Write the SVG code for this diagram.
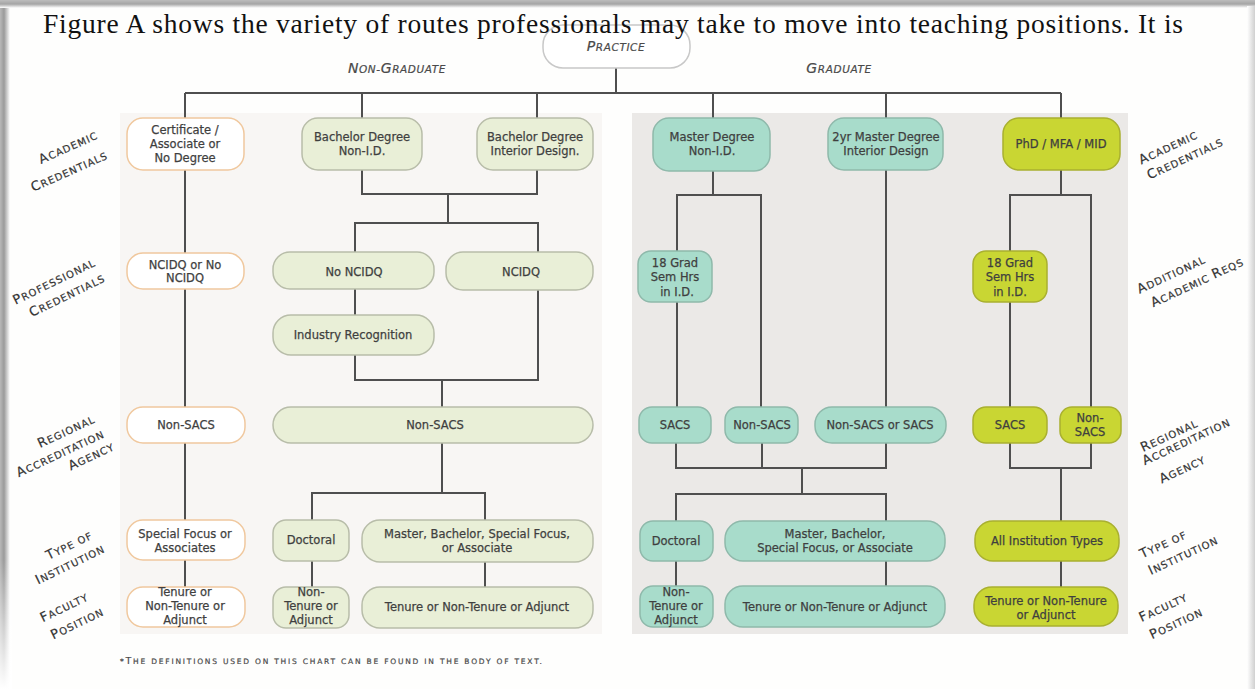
<svg xmlns="http://www.w3.org/2000/svg" width="1255" height="689" viewBox="0 0 1255 689">
<defs>
<linearGradient id="shL" x1="0" x2="1" y1="0" y2="0"><stop offset="0" stop-color="#b8b8b8"/><stop offset="0.4" stop-color="#9a9a9a"/><stop offset="1" stop-color="#ffffff"/></linearGradient>
<linearGradient id="shT" x1="0" x2="0" y1="0" y2="1"><stop offset="0" stop-color="#bdbdbd"/><stop offset="0.5" stop-color="#a5a5a5"/><stop offset="1" stop-color="#ffffff"/></linearGradient>
<linearGradient id="shR" x1="0" x2="1" y1="0" y2="0"><stop offset="0" stop-color="#ffffff"/><stop offset="1" stop-color="#d0d0d0"/></linearGradient>
<linearGradient id="fadeL" x1="0" x2="0" y1="0" y2="1"><stop offset="0" stop-color="#fff" stop-opacity="0"/><stop offset="1" stop-color="#fff" stop-opacity="1"/></linearGradient>
<style>
.t{font-family:"DejaVu Sans",sans-serif;font-size:11.5px;fill:#3f3f3f;stroke:#3f3f3f;stroke-width:0.25px;text-anchor:middle}
.lab{font-family:"DejaVu Sans",sans-serif;font-size:10px;fill:#333;stroke:#333;stroke-width:0.2px;letter-spacing:1px;text-anchor:middle}
.lab .b{font-size:13px}
.hd{font-family:"DejaVu Sans",sans-serif;font-style:italic;font-size:10.5px;fill:#4a4a4a;stroke:#4a4a4a;stroke-width:0.2px;letter-spacing:0.6px;text-anchor:middle}
.hd .b{font-size:14px}
.o{fill:#ffffff;stroke:#f0c89e;stroke-width:1.5}
.g{fill:#e9efd7;stroke:#b8bda9;stroke-width:1.5}
.c{fill:#a8dccb;stroke:#8fb9ab;stroke-width:1.5}
.y{fill:#c9d633;stroke:#a9b030;stroke-width:1.5}
.p{fill:#ffffff;stroke:#c8c8c8;stroke-width:1.5}
#connectors path{stroke:#4f4f4f;stroke-width:2;fill:none}
</style>
</defs>
<rect x="0" y="0" width="1255" height="689" fill="#fefefd"/>
<rect x="0" y="0" width="10" height="689" fill="url(#shL)"/>
<rect x="0" y="560" width="12" height="129" fill="url(#fadeL)"/>
<rect x="0" y="0" width="1255" height="8" fill="url(#shT)"/>
<rect x="1247" y="6" width="8" height="683" fill="url(#shR)"/>

<rect x="120" y="113" width="482" height="521" fill="#f8f6f4"/>
<rect x="632" y="113" width="496" height="521" fill="#ebe9e7"/>

<g id="connectors">
<path d="M616 68V93M185 93H1061M185 93V118M362 93V118M537 93V118M713 93V118M886 93V118M1061 93V118"/>
<path d="M185 170V253M185 289V407M185 443V520M185 560V587"/>
<path d="M362 170V194H537V170M448 194V223M355 252V223H538V252M355 289V315"/>
<path d="M355 355V380H538V290M442 380V407M442 443V493M312 520V493H485V520M312 561V587M485 562V587"/>
<path d="M713 171V195M677 251V195H761V407M677 302V407M886 170V407"/>
<path d="M676 443V468H886V443M762 443V468M802 468V494M676 521V494H886V521M676 561V586M886 561V586"/>
<path d="M1061 170V195M1010 251V195H1091V407M1010 302V407M1010 443V468H1091V443M1061 468V521M1061 561V587"/>
</g>

<g id="practice"><rect class="p" x="543" y="25" width="147" height="43" rx="20"/><text class="hd" x="616" y="51"><tspan class="b">P</tspan>RACTICE</text></g>
<text x="43" y="33" font-family="'Liberation Serif','Times New Roman',serif" font-size="27.5" fill="#111" textLength="1140" lengthAdjust="spacing">Figure A shows the variety of routes professionals may take to move into teaching positions. It is</text>
<text class="hd" x="397" y="73"><tspan class="b">N</tspan>ON-<tspan class="b">G</tspan>RADUATE</text>
<text class="hd" x="839" y="73"><tspan class="b">G</tspan>RADUATE</text>

<g id="n-cert"><rect class="o" x="127" y="118" width="117" height="52" rx="16"/><text class="t" x="185" y="134">Certificate /</text><text class="t" x="185" y="148">Associate or</text><text class="t" x="185" y="162">No Degree</text></g>
<g id="n-bach-nonid"><rect class="g" x="302" y="118" width="120" height="52" rx="16"/><text class="t" x="362" y="141">Bachelor Degree</text><text class="t" x="362" y="155">Non-I.D.</text></g>
<g id="n-bach-id"><rect class="g" x="477" y="118" width="116" height="52" rx="16"/><text class="t" x="535" y="141">Bachelor Degree</text><text class="t" x="535" y="155">Interior Design.</text></g>
<g id="n-mast-nonid"><rect class="c" x="653" y="118" width="117" height="53" rx="16"/><text class="t" x="712" y="141">Master Degree</text><text class="t" x="712" y="155">Non-I.D.</text></g>
<g id="n-mast-id"><rect class="c" x="828" y="118" width="115" height="52" rx="16"/><text class="t" x="886" y="141">2yr Master Degree</text><text class="t" x="886" y="155">Interior Design</text></g>
<g id="n-phd"><rect class="y" x="1003" y="118" width="117" height="52" rx="16"/><text class="t" x="1061" y="148">PhD / MFA / MID</text></g>

<g id="n-ncidq-or"><rect class="o" x="127" y="253" width="117" height="36" rx="16"/><text class="t" x="185" y="269">NCIDQ or No</text><text class="t" x="185" y="282">NCIDQ</text></g>
<g id="n-no-ncidq"><rect class="g" x="273" y="252" width="161" height="37" rx="17"/><text class="t" x="354" y="276">No NCIDQ</text></g>
<g id="n-ncidq"><rect class="g" x="446" y="252" width="147" height="38" rx="17"/><text class="t" x="521" y="276">NCIDQ</text></g>
<g id="n-industry"><rect class="g" x="273" y="315" width="161" height="40" rx="18"/><text class="t" x="353" y="339">Industry Recognition</text></g>
<g id="n-18grad-c"><rect class="c" x="638" y="251" width="74" height="51" rx="13"/><text class="t" x="675" y="267">18 Grad</text><text class="t" x="675" y="281">Sem Hrs</text><text class="t" x="677" y="296">in I.D.</text></g>
<g id="n-18grad-y"><rect class="y" x="973" y="251" width="74" height="51" rx="13"/><text class="t" x="1010" y="267">18 Grad</text><text class="t" x="1010" y="281">Sem Hrs</text><text class="t" x="1010" y="296">in I.D.</text></g>

<g id="n-nonsacs-l"><rect class="o" x="127" y="407" width="118" height="36" rx="16"/><text class="t" x="186" y="429">Non-SACS</text></g>
<g id="n-nonsacs-g"><rect class="g" x="273" y="407" width="320" height="36" rx="18"/><text class="t" x="435" y="429">Non-SACS</text></g>
<g id="n-sacs-c"><rect class="c" x="639" y="407" width="72" height="36" rx="13"/><text class="t" x="675" y="429">SACS</text></g>
<g id="n-nonsacs-c"><rect class="c" x="725" y="407" width="73" height="36" rx="13"/><text class="t" x="762" y="429">Non-SACS</text></g>
<g id="n-either-c"><rect class="c" x="815" y="407" width="131" height="36" rx="17"/><text class="t" x="880" y="429">Non-SACS or SACS</text></g>
<g id="n-sacs-y"><rect class="y" x="973" y="407" width="74" height="36" rx="13"/><text class="t" x="1010" y="429">SACS</text></g>
<g id="n-nonsacs-y"><rect class="y" x="1060" y="407" width="61" height="36" rx="12"/><text class="t" x="1090" y="422">Non-</text><text class="t" x="1090" y="436">SACS</text></g>

<g id="n-special"><rect class="o" x="127" y="520" width="118" height="40" rx="16"/><text class="t" x="185" y="538">Special Focus or</text><text class="t" x="185" y="552">Associates</text></g>
<g id="n-doc-g"><rect class="g" x="273" y="520" width="76" height="41" rx="13"/><text class="t" x="311" y="544">Doctoral</text></g>
<g id="n-mbs-g"><rect class="g" x="362" y="520" width="231" height="42" rx="18"/><text class="t" x="477" y="538">Master, Bachelor, Special Focus,</text><text class="t" x="477" y="552">or Associate</text></g>
<g id="n-doc-c"><rect class="c" x="640" y="521" width="73" height="40" rx="13"/><text class="t" x="676" y="545">Doctoral</text></g>
<g id="n-mbs-c"><rect class="c" x="725" y="521" width="220" height="40" rx="18"/><text class="t" x="835" y="538">Master, Bachelor,</text><text class="t" x="835" y="552">Special Focus, or Associate</text></g>
<g id="n-all-y"><rect class="y" x="975" y="521" width="144" height="40" rx="18"/><text class="t" x="1047" y="545">All Institution Types</text></g>

<g id="n-ten-l"><rect class="o" x="127" y="587" width="118" height="40" rx="16"/><text class="t" x="185" y="596">Tenure or</text><text class="t" x="185" y="610">Non-Tenure or</text><text class="t" x="185" y="624">Adjunct</text></g>
<g id="n-nt-g"><rect class="g" x="273" y="587" width="76" height="41" rx="13"/><text class="t" x="311" y="596">Non-</text><text class="t" x="311" y="610">Tenure or</text><text class="t" x="311" y="624">Adjunct</text></g>
<g id="n-ten-g"><rect class="g" x="362" y="587" width="231" height="41" rx="18"/><text class="t" x="477" y="611">Tenure or Non-Tenure or Adjunct</text></g>
<g id="n-nt-c"><rect class="c" x="640" y="586" width="73" height="41" rx="13"/><text class="t" x="676" y="596">Non-</text><text class="t" x="676" y="610">Tenure or</text><text class="t" x="676" y="624">Adjunct</text></g>
<g id="n-ten-c"><rect class="c" x="725" y="586" width="220" height="41" rx="18"/><text class="t" x="835" y="611">Tenure or Non-Tenure or Adjunct</text></g>
<g id="n-ten-y"><rect class="y" x="974" y="587" width="144" height="39" rx="18"/><text class="t" x="1046" y="605">Tenure or Non-Tenure</text><text class="t" x="1046" y="619">or Adjunct</text></g>

<g id="labels-left">
<text class="lab" transform="translate(70,151) rotate(-24)"><tspan class="b">A</tspan>CADEMIC</text>
<text class="lab" transform="translate(71,175) rotate(-24)"><tspan class="b">C</tspan>REDENTIALS</text>
<text class="lab" transform="translate(56,285) rotate(-26)"><tspan class="b">P</tspan>ROFESSIONAL</text>
<text class="lab" transform="translate(69,299) rotate(-26)"><tspan class="b">C</tspan>REDENTIALS</text>
<text class="lab" transform="translate(68,435) rotate(-25)"><tspan class="b">R</tspan>EGIONAL</text>
<text class="lab" transform="translate(62,457) rotate(-25)"><tspan class="b">A</tspan>CCREDITATION</text>
<text class="lab" transform="translate(93,460) rotate(-25)"><tspan class="b">A</tspan>GENCY</text>
<text class="lab" transform="translate(71,549) rotate(-26)"><tspan class="b">T</tspan>YPE OF</text>
<text class="lab" transform="translate(72,568) rotate(-26)"><tspan class="b">I</tspan>NSTITUTION</text>
<text class="lab" transform="translate(66,611) rotate(-26)"><tspan class="b">F</tspan>ACULTY</text>
<text class="lab" transform="translate(79,627) rotate(-26)"><tspan class="b">P</tspan>OSITION</text>
</g>
<g id="labels-right">
<text class="lab" transform="translate(1170,151) rotate(-25)"><tspan class="b">A</tspan>CADEMIC</text>
<text class="lab" transform="translate(1187,162) rotate(-25)"><tspan class="b">C</tspan>REDENTIALS</text>
<text class="lab" transform="translate(1173,278) rotate(-25)"><tspan class="b">A</tspan>DDITIONAL</text>
<text class="lab" transform="translate(1199,286) rotate(-25)"><tspan class="b">A</tspan>CADEMIC <tspan class="b">R</tspan>EQS</text>
<text class="lab" transform="translate(1171,439) rotate(-25)"><tspan class="b">R</tspan>EGIONAL</text>
<text class="lab" transform="translate(1188,445) rotate(-25)"><tspan class="b">A</tspan>CCREDITATION</text>
<text class="lab" transform="translate(1184,473) rotate(-25)"><tspan class="b">A</tspan>GENCY</text>
<text class="lab" transform="translate(1165,548) rotate(-25)"><tspan class="b">T</tspan>YPE OF</text>
<text class="lab" transform="translate(1185,559) rotate(-25)"><tspan class="b">I</tspan>NSTITUTION</text>
<text class="lab" transform="translate(1165,611) rotate(-25)"><tspan class="b">F</tspan>ACULTY</text>
<text class="lab" transform="translate(1178,627) rotate(-25)"><tspan class="b">P</tspan>OSITION</text>
</g>

<text x="120" y="664" font-family="'DejaVu Sans',sans-serif" font-size="7.5" fill="#4a4a4a" stroke="#4a4a4a" stroke-width="0.2" textLength="422" lengthAdjust="spacing">*<tspan font-size="9.5">T</tspan>HE DEFINITIONS USED ON THIS CHART CAN BE FOUND IN THE BODY OF TEXT.</text>
</svg>
